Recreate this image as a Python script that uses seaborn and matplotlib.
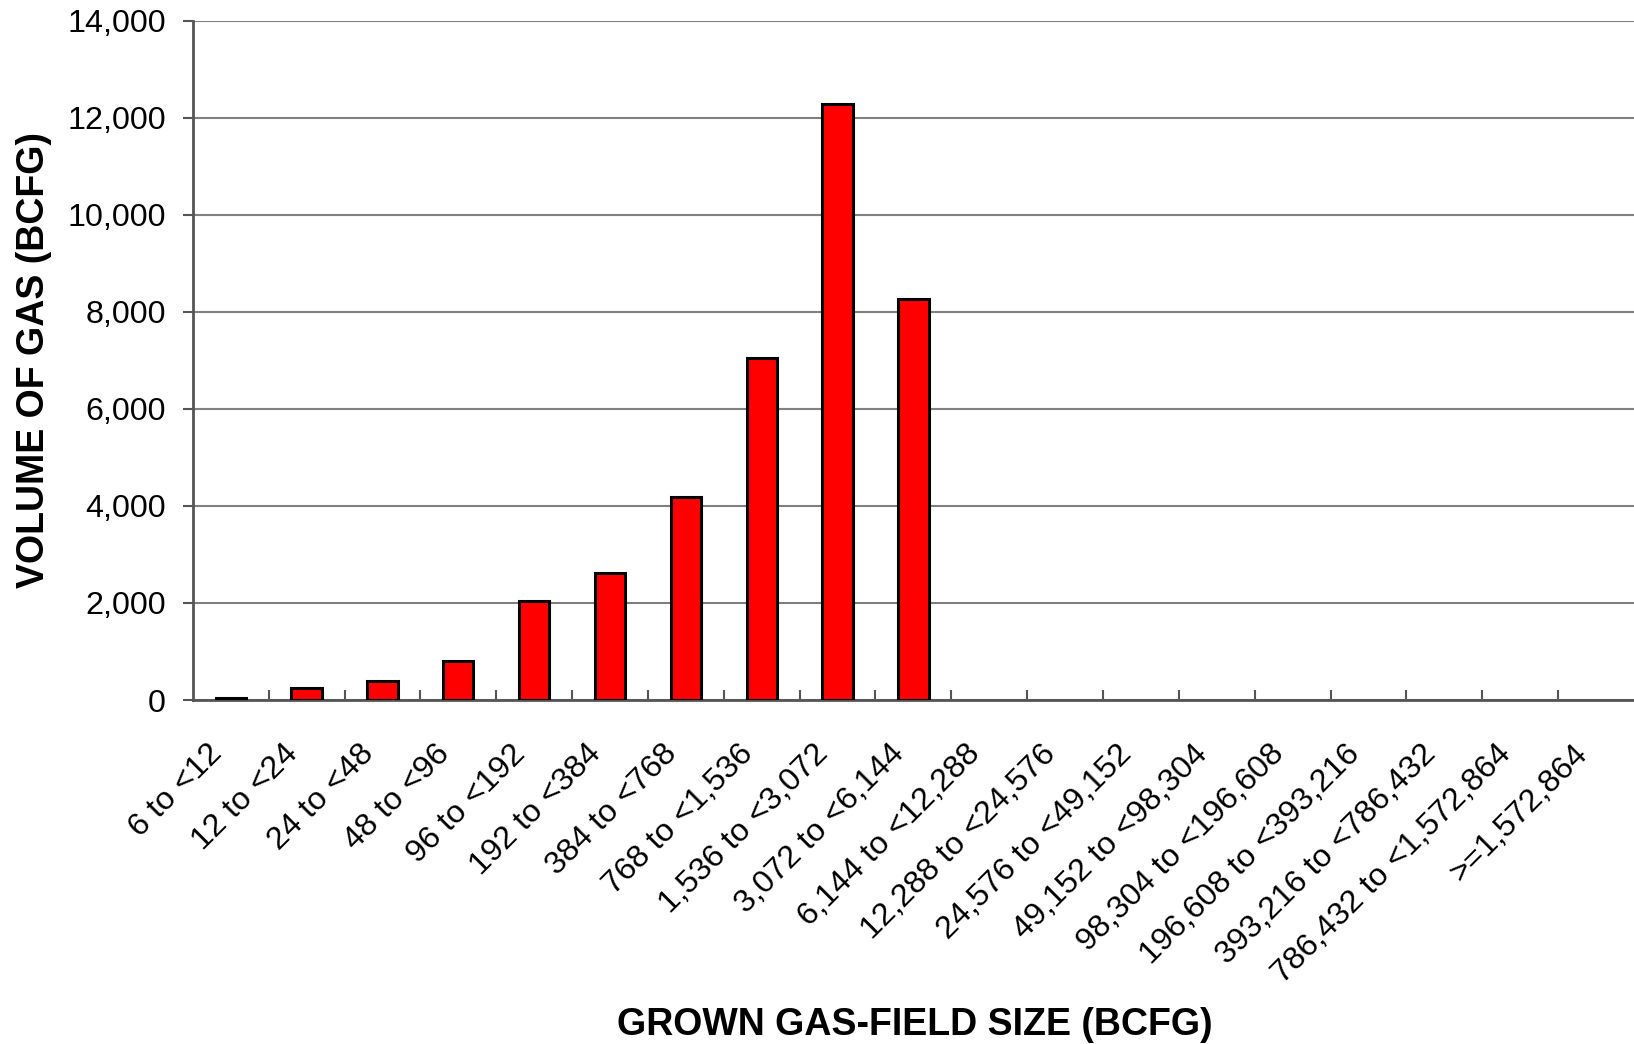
import matplotlib
matplotlib.use('Agg')
import matplotlib.pyplot as plt
import matplotlib.ticker as mticker
import matplotlib.transforms as mtrans
import seaborn as sns
import numpy as np

# Field-size classes (BCFG) and volume of gas in each class
size_classes = ['6 to <12', '12 to <24', '24 to <48', '48 to <96', '96 to <192',
                '192 to <384', '384 to <768', '768 to <1,536', '1,536 to <3,072',
                '3,072 to <6,144', '6,144 to <12,288', '12,288 to <24,576',
                '24,576 to <49,152', '49,152 to <98,304', '98,304 to <196,608',
                '196,608 to <393,216', '393,216 to <786,432', '786,432 to <1,572,864',
                '>=1,572,864']
gas_volume = [45, 247, 385, 804, 2048, 2625, 4186, 7041, 12285, 8268,
              0, 0, 0, 0, 0, 0, 0, 0, 0]

sns.set_style('white')
plt.rcParams['font.family'] = ['Liberation Sans', 'DejaVu Sans']
plt.rcParams['text.color'] = 'black'
plt.rcParams['axes.labelcolor'] = 'black'
plt.rcParams['xtick.labelcolor'] = 'black'
plt.rcParams['ytick.labelcolor'] = 'black'

fig = plt.figure(figsize=(16.34, 10.44), dpi=100)
ax = fig.add_axes([0.118, 0.3295, 0.882, 0.6505])

sns.barplot(x=size_classes, y=gas_volume, color='#ff0000', saturation=1,
            edgecolor='black', linewidth=2.2, width=0.4, ax=ax, zorder=3)
# empty classes show no outline
for p in ax.patches:
    if p.get_height() == 0:
        p.set_linewidth(0)

ax.set_xlim(-0.5, len(size_classes) - 0.5)
ax.set_ylim(0, 14000)
ax.yaxis.set_major_locator(mticker.MultipleLocator(2000))
ax.yaxis.set_major_formatter(mticker.FuncFormatter(lambda v, p: f'{int(v):,}'))
ax.grid(axis='y', color='#808080', linewidth=1.5, zorder=0)
ax.grid(axis='x', visible=False)

for s in ['top', 'right']:
    ax.spines[s].set_visible(False)
for s in ['left', 'bottom']:
    ax.spines[s].set_color('#555555')
    ax.spines[s].set_linewidth(2)

ax.tick_params(axis='y', direction='out', length=7.5, width=1.5, color='#555555',
               labelsize=23.2, pad=12, left=True, labelcolor='black')
# category labels at centres, tick marks at the boundaries
ax.set_xticks(np.arange(len(size_classes)))
ax.set_xticklabels(size_classes, rotation=45, ha='right', va='top',
                   rotation_mode='anchor')
ax.tick_params(axis='x', which='major', length=0, labelsize=23.2, pad=28,
               labelcolor='black')
shift = mtrans.ScaledTranslation(-24 / 100, 0, fig.dpi_scale_trans)
for lab in ax.get_xticklabels():
    lab.set_transform(lab.get_transform() + shift)
ax.set_xticks(np.arange(len(size_classes) - 1) + 0.5, minor=True)
ax.tick_params(axis='x', which='minor', direction='in', length=7, width=1.5,
               color='#555555', bottom=True)

ax.set_ylabel('VOLUME OF GAS (BCFG)', fontsize=27, fontweight='bold', va='center')
ax.yaxis.set_label_coords(-0.110, 0.5)
ax.set_xlabel('GROWN GAS-FIELD SIZE (BCFG)', fontsize=27, fontweight='bold', va='center')
ax.xaxis.set_label_coords(0.501, -0.478)

fig.savefig('out.png', dpi=100)
